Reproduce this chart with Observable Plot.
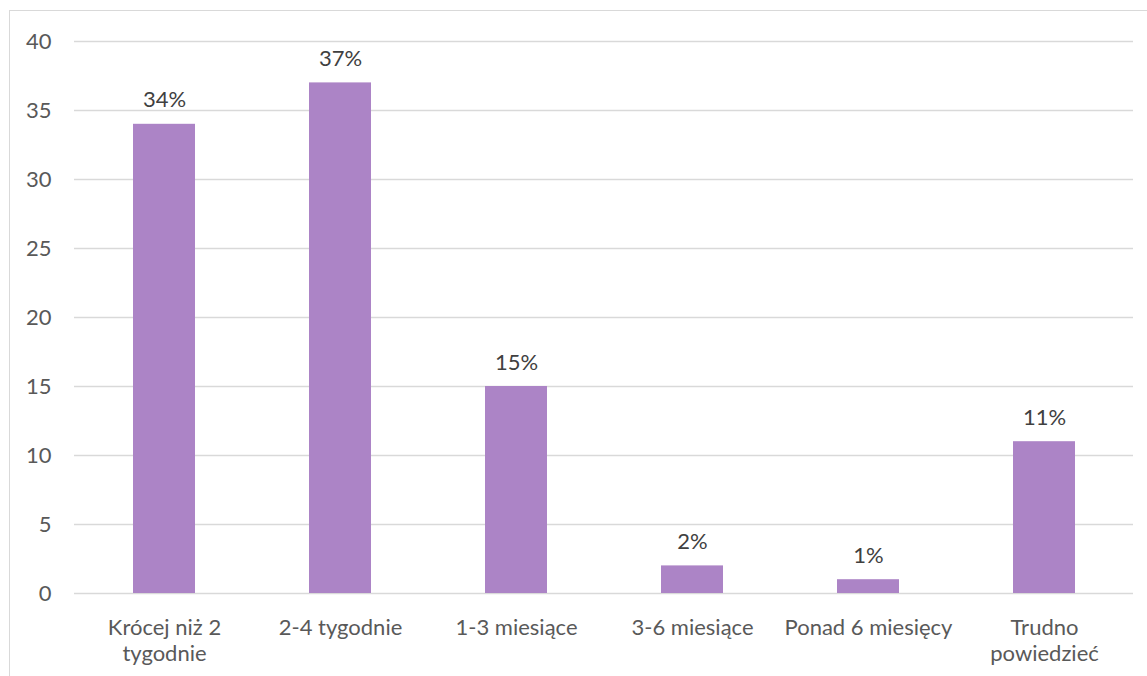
<!DOCTYPE html>
<html>
<head>
<meta charset="utf-8">
<script src="https://cdn.jsdelivr.net/npm/d3@7"></script>
<script src="https://cdn.jsdelivr.net/npm/@observablehq/plot@0.6"></script>
<style>
  html, body { margin: 0; padding: 0; background: #fff; }
  #wrap { position: relative; width: 1147px; height: 676px; overflow: hidden; }
  #frame { position: absolute; left: 9px; top: 10px; right: 0; bottom: 0;
           border-top: 1.5px solid #d9d9d9; border-left: 1.5px solid #d9d9d9; }
  #chart { position: absolute; left: 0; top: 0; }
</style>
</head>
<body>
<div id="wrap"><div id="frame"></div><div id="chart"></div></div>
<script>
const categories = ["Krócej niż 2\ntygodnie", "2-4 tygodnie", "1-3 miesiące", "3-6 miesiące", "Ponad 6 miesięcy", "Trudno\npowiedzieć"];
const values = [34, 37, 15, 2, 1, 11];
const yTicks = [0, 5, 10, 15, 20, 25, 30, 35, 40];

const data = categories.map((c, i) => ({category: c, value: values[i]}));
const font = "Lato, 'Open Sans', sans-serif";

const chart = Plot.plot({
  width: 1147,
  height: 676,
  marginLeft: 74,
  marginRight: 14,
  marginTop: 41,
  marginBottom: 83,
  style: {fontFamily: font, fontSize: "22px", color: "#595959", background: "transparent"},
  x: {domain: categories, paddingInner: 0.65, paddingOuter: 0.325, label: null},
  y: {domain: [0, 40], label: null},
  marks: [
    Plot.gridY(yTicks, {stroke: "#d9d9d9", strokeOpacity: 1, strokeWidth: 1.3}),
    Plot.axisY(yTicks, {tickSize: 0, tickPadding: 23, label: null, fill: "#595959"}),
    Plot.axisX({tickSize: 0, tickPadding: 23, label: null, lineHeight: 1.18, fill: "#595959"}),
    Plot.barY(data, {x: "category", y: "value", fill: "#ac84c6"}),
    Plot.text(data, {x: "category", y: "value", text: d => `${d.value}%`, lineAnchor: "bottom", dy: -17, fill: "#404040", fontSize: 22})
  ]
});
document.getElementById("chart").appendChild(chart);
</script>
</body>
</html>
